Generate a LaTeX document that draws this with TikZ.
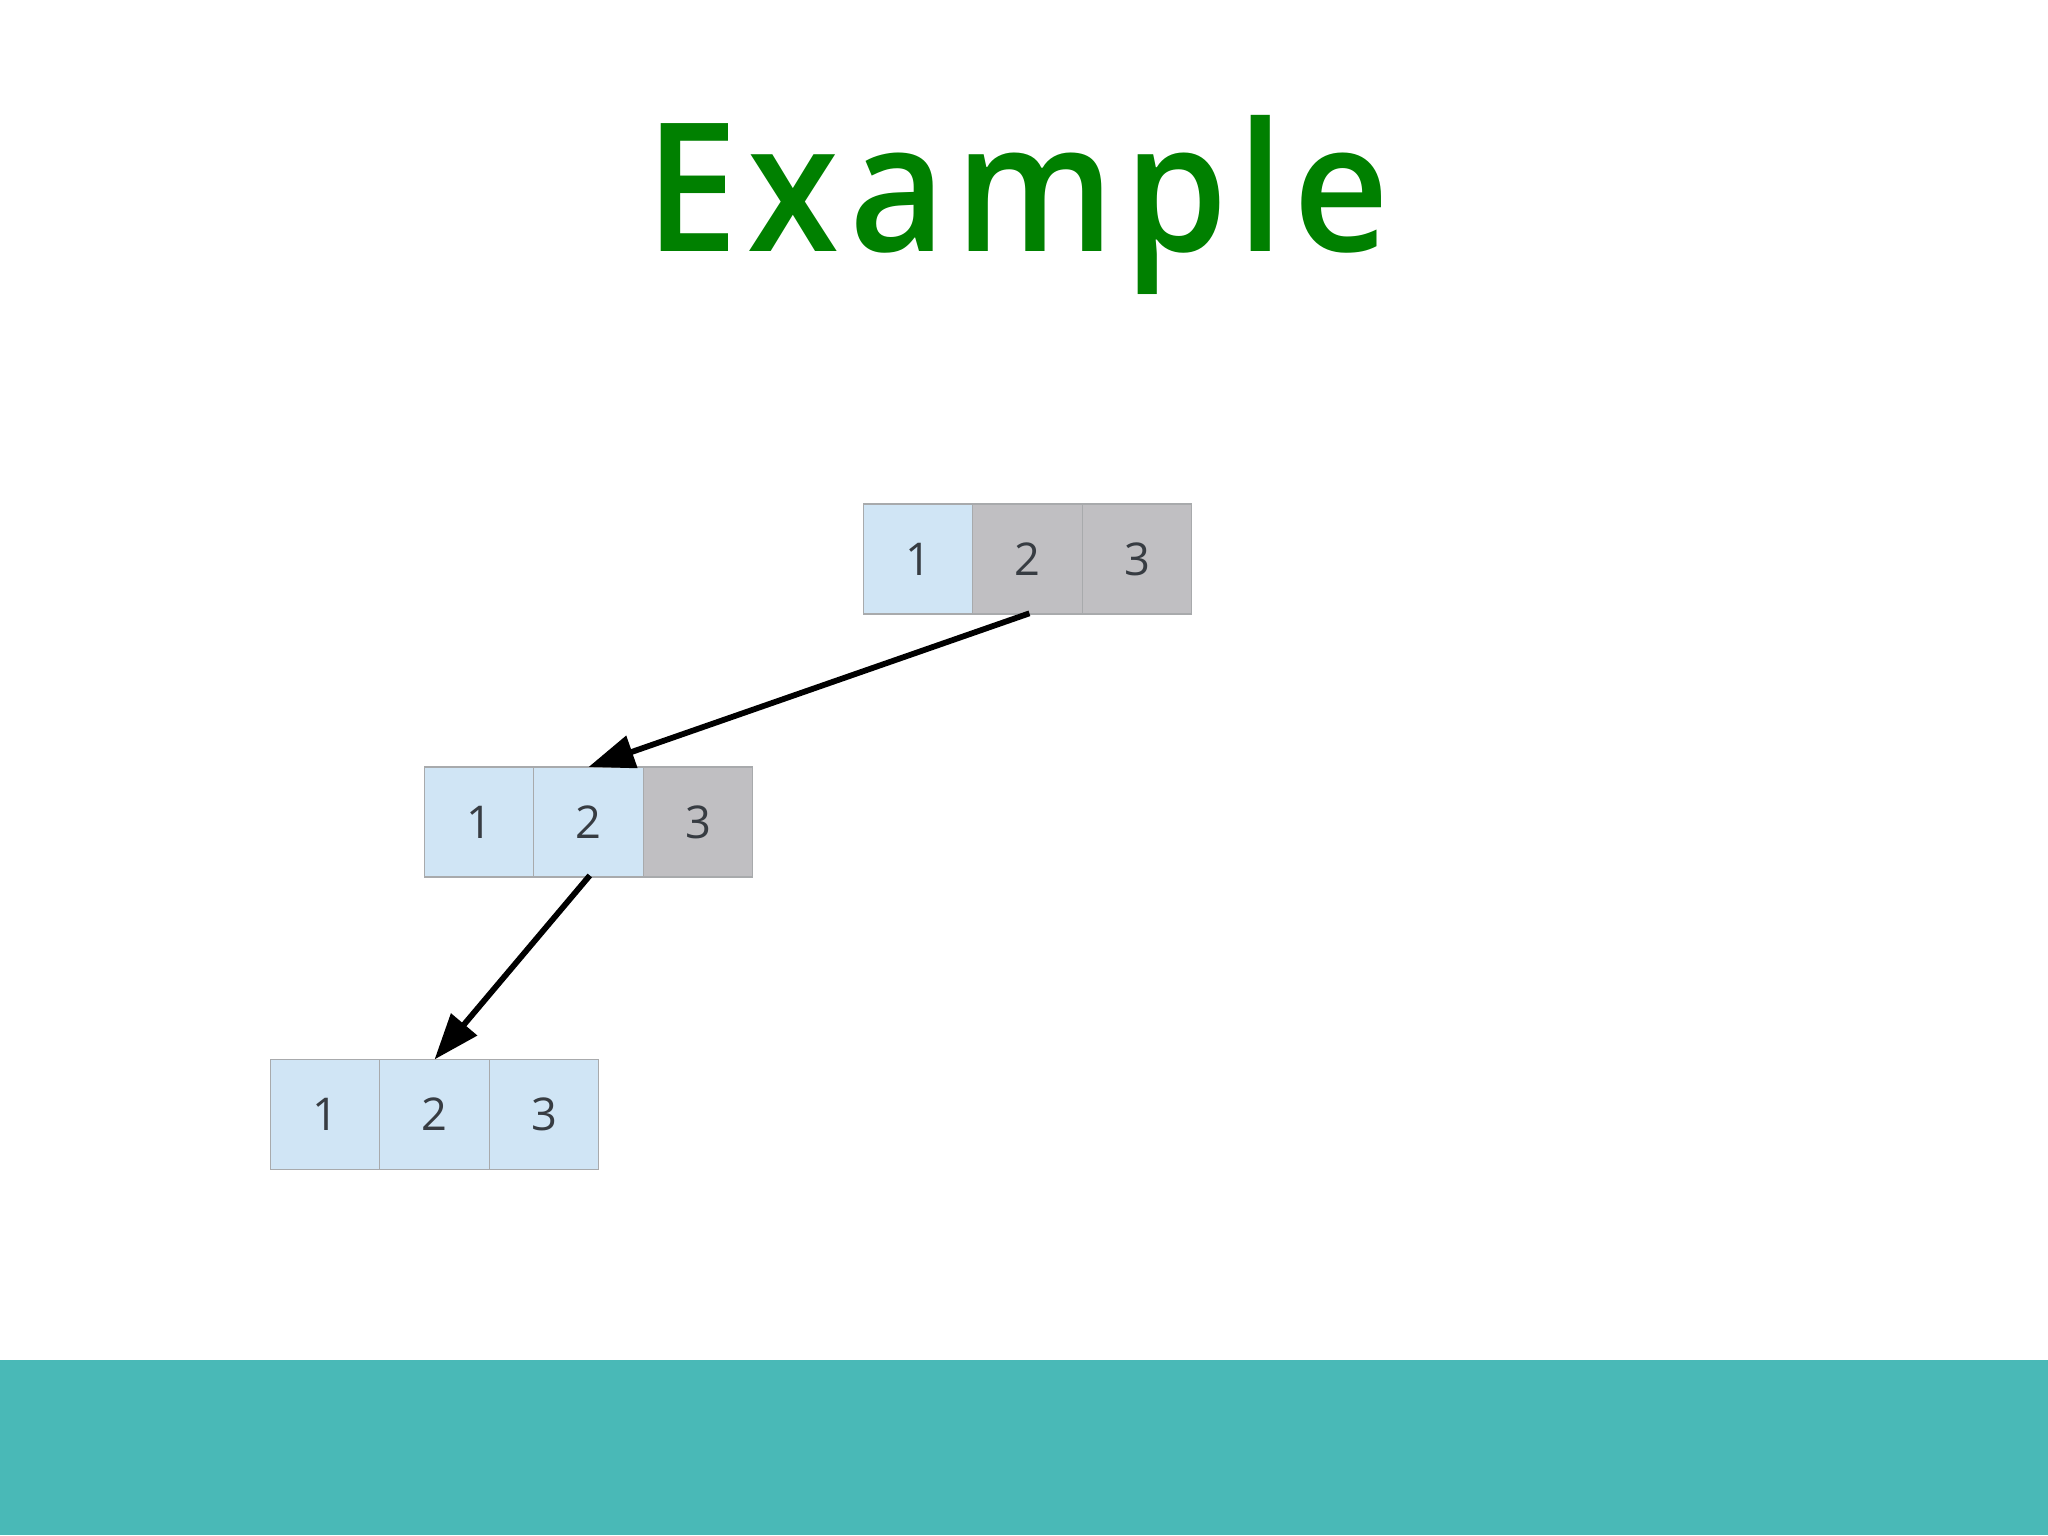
\documentclass[tikz,border=0pt]{standalone}
\usepackage{fontspec}
\setmainfont{Open Sans}
\IfFontExistsTF{Open Sans Semibold}
  {\newfontfamily\titlefont{Open Sans Semibold}[LetterSpace=5.7]}
  {\newfontfamily\titlefont{Open Sans}[UprightFont={* Bold},LetterSpace=5]}
\usetikzlibrary{arrows.meta}
\definecolor{titlegreen}{RGB}{0,128,0}
\definecolor{band}{RGB}{73,185,183}
\definecolor{cellblue}{RGB}{208,229,245}
\definecolor{cellgrey}{RGB}{192,191,194}
\definecolor{cellline}{RGB}{168,170,172}
\definecolor{digit}{RGB}{55,60,66}
\tikzset{
  cell/.style={draw=cellline, line width=0.6pt, minimum width=54.8pt, minimum height=55pt, inner sep=0pt, outer sep=0pt,
    text=digit, font=\fontsize{22.6pt}{26pt}\selectfont},
  done/.style={cell, fill=cellblue},
  todo/.style={cell, fill=cellgrey},
  flow/.style={line width=2.9pt, -{Triangle[length=23pt,width=16.5pt]}, shorten <=-1pt}
}
\begin{document}
\begin{tikzpicture}[x=0.5pt,y=-0.5pt]
\useasboundingbox (0,0) rectangle (2048,1535);
\fill[white] (0,0) rectangle (2048,1535);
\fill[band] (0,1360) rectangle (2048,1535);
\node[anchor=base west, inner sep=0pt, text=titlegreen, font=\titlefont\fontsize{89.6pt}{100pt}\selectfont] (title) at (645,252) {\scalebox{0.93}[1]{Example}};
% top row
\node[done] (a1) at (918,559) {1};
\node[todo] (a2) at (1027.5,559) {2};
\node[todo] (a3) at (1137,559) {3};
% middle row
\node[done] (b1) at (479,822) {1};
\node[done] (b2) at (588.5,822) {2};
\node[todo] (b3) at (698,822) {3};
% bottom row
\node[done] (c1) at (325.5,1114.5) {1};
\node[done] (c2) at (434.5,1114.5) {2};
\node[done] (c3) at (544,1114.5) {3};
\draw[flow] (a2.south) -- (b2.north);
\draw[flow] (b2.south) -- (c2.north);
\end{tikzpicture}
\end{document}
